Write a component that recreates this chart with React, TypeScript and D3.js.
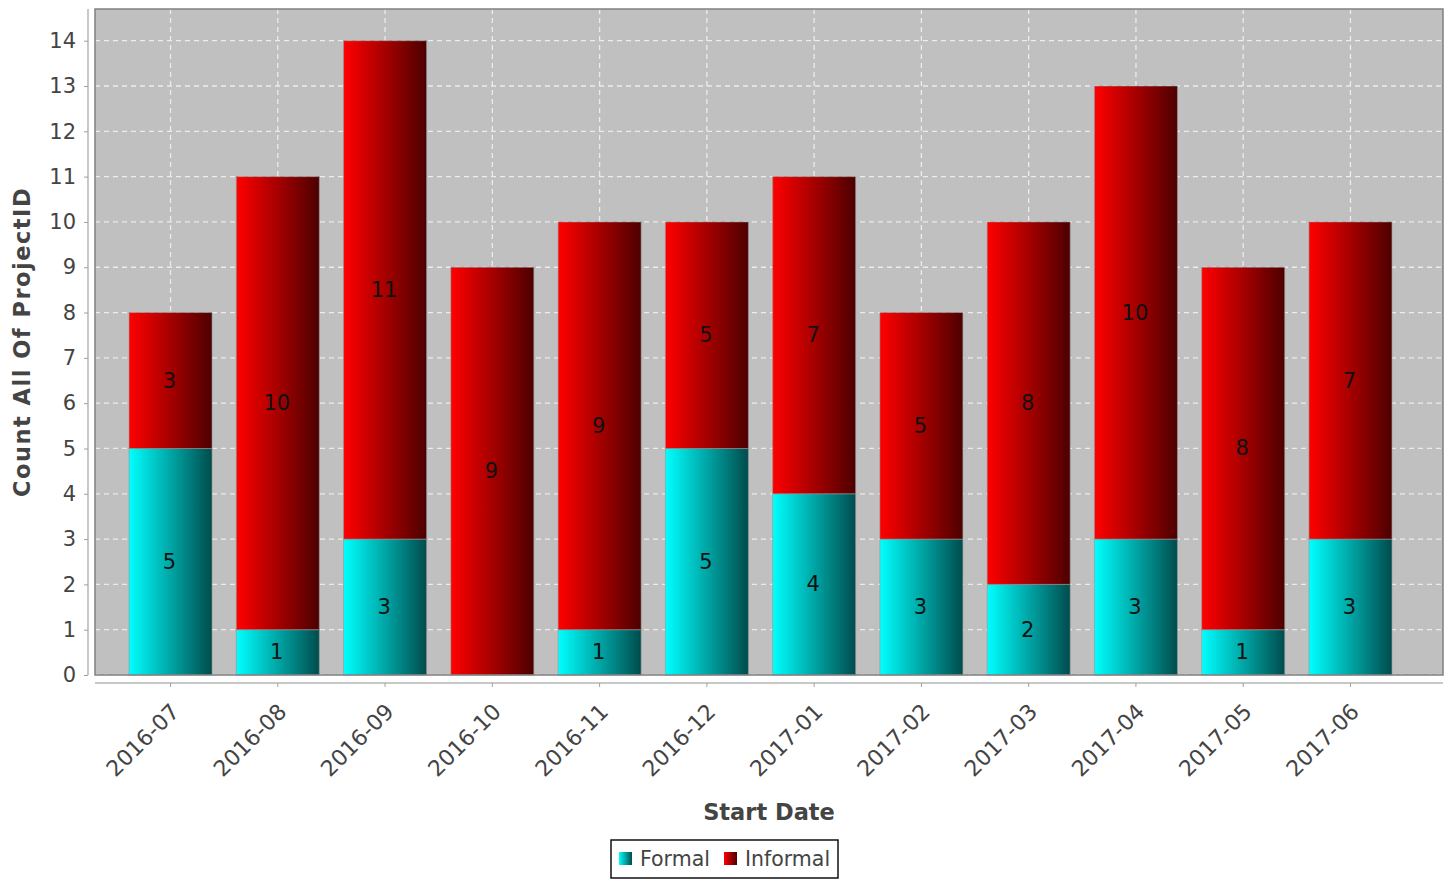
import * as d3 from "d3";
import { useEffect, useRef } from "react";

const months = [
  "2016-07", "2016-08", "2016-09", "2016-10", "2016-11", "2016-12",
  "2017-01", "2017-02", "2017-03", "2017-04", "2017-05", "2017-06",
];
const formal = [5, 1, 3, 0, 1, 5, 4, 3, 2, 3, 1, 3];
const informal = [3, 10, 11, 9, 9, 5, 7, 5, 8, 10, 8, 7];
const seriesNames = ["Formal", "Informal"];
const yTicks = d3.range(0, 15);

const W = 1450;
const H = 880;
const PLOT = { left: 95, top: 9, right: 1443, bottom: 675 };
const FONT = "'DejaVu Sans', sans-serif";

export default function App() {
  const ref = useRef<SVGSVGElement>(null);

  useEffect(() => {
    const svg = d3.select(ref.current);
    svg.selectAll("*").remove();

    const defs = svg.append("defs");
    const grads = [
      { id: "gFormal", from: "#00ffff", to: "#004c4c" },
      { id: "gInformal", from: "#ff0000", to: "#4c0000" },
    ];
    grads.forEach((g) => {
      const lg = defs.append("linearGradient").attr("id", g.id)
        .attr("x1", 0).attr("x2", 1).attr("y1", 0).attr("y2", 0);
      lg.append("stop").attr("offset", 0).attr("stop-color", g.from);
      lg.append("stop").attr("offset", 1).attr("stop-color", g.to);
    });

    // x: band scale, bars are 83px wide on a ~107px step
    const x = d3.scaleBand<string>()
      .domain(months)
      .range([116.9, 1404.1])
      .paddingInner(0.2263)
      .paddingOuter(0.11315);

    const y = d3.scaleLinear().domain([0, 14.7]).range([PLOT.bottom, PLOT.top]);

    // plot background
    svg.append("rect")
      .attr("x", PLOT.left).attr("y", PLOT.top)
      .attr("width", PLOT.right - PLOT.left).attr("height", PLOT.bottom - PLOT.top)
      .attr("fill", "#c0c0c0");

    // gridlines
    const grid = svg.append("g").attr("stroke", "#ececec").attr("stroke-width", 1.3)
      .attr("stroke-dasharray", "5,4");
    yTicks.forEach((t) => {
      grid.append("line").attr("x1", PLOT.left).attr("x2", PLOT.right)
        .attr("y1", y(t)).attr("y2", y(t));
    });
    months.forEach((m) => {
      const cx = x(m)! + x.bandwidth() / 2;
      grid.append("line").attr("x1", cx).attr("x2", cx)
        .attr("y1", PLOT.top).attr("y2", PLOT.bottom);
    });

    // stacked bars
    const table = months.map((m, i) => ({ month: m, Formal: formal[i], Informal: informal[i] }));
    const stack = d3.stack<any>().keys(seriesNames)(table);
    const fills = ["url(#gFormal)", "url(#gInformal)"];

    stack.forEach((layer, li) => {
      const g = svg.append("g");
      layer.forEach((d) => {
        const v = d[1] - d[0];
        if (v <= 0) return;
        const bx = x(d.data.month)!;
        g.append("rect")
          .attr("x", bx).attr("y", y(d[1]))
          .attr("width", x.bandwidth()).attr("height", y(d[0]) - y(d[1]))
          .attr("fill", fills[li])
          .attr("stroke", "rgba(150,150,150,0.6)").attr("stroke-width", 1);
      });
    });

    // value labels
    stack.forEach((layer) => {
      layer.forEach((d) => {
        const v = d[1] - d[0];
        if (v <= 0) return;
        svg.append("text")
          .attr("x", x(d.data.month)! + x.bandwidth() / 2 - 1)
          .attr("y", y((d[0] + d[1]) / 2))
          .attr("text-anchor", "middle")
          .attr("dominant-baseline", "central")
          .attr("font-family", FONT).attr("font-size", 21)
          .attr("fill", "#111")
          .text(v);
      });
    });

    // plot outline
    svg.append("rect")
      .attr("x", PLOT.left).attr("y", PLOT.top)
      .attr("width", PLOT.right - PLOT.left).attr("height", PLOT.bottom - PLOT.top)
      .attr("fill", "none").attr("stroke", "#808080").attr("stroke-width", 1.5);

    // y axis
    const yAxis = svg.append("g").attr("transform", "translate(88,0)")
      .call(d3.axisLeft(y).tickValues(yTicks).tickSize(4).tickPadding(8).tickFormat(d3.format("d")));
    yAxis.select(".domain").attr("stroke", "#c8c8c8").attr("stroke-width", 2)
      .attr("d", `M0,${PLOT.top}V${PLOT.bottom}`);
    yAxis.selectAll(".tick line").attr("stroke", "#a0a0a0");
    yAxis.selectAll(".tick text").attr("fill", "#444").attr("font-family", FONT).attr("font-size", 21);

    // x axis
    const xAxis = svg.append("g").attr("transform", "translate(0,683)")
      .call(d3.axisBottom(x).tickSize(4).tickSizeOuter(0));
    xAxis.select(".domain").attr("stroke", "#c8c8c8").attr("stroke-width", 2)
      .attr("d", `M${PLOT.left},0H${PLOT.right}`);
    xAxis.selectAll(".tick line").attr("stroke", "#a0a0a0");
    xAxis.selectAll(".tick text")
      .attr("fill", "#444").attr("font-family", FONT).attr("font-size", 22)
      .attr("text-anchor", "end")
      .attr("dy", null)
      .attr("y", 0)
      .attr("transform", "translate(10,30) rotate(-45)");

    // axis titles
    svg.append("text")
      .attr("x", (PLOT.left + PLOT.right) / 2).attr("y", 820)
      .attr("text-anchor", "middle")
      .attr("font-family", FONT).attr("font-size", 22.5).attr("font-weight", "bold")
      .attr("fill", "#444")
      .text("Start Date");
    svg.append("text")
      .attr("transform", `translate(30,${(PLOT.top + PLOT.bottom) / 2}) rotate(-90)`)
      .attr("text-anchor", "middle")
      .attr("font-family", FONT).attr("font-size", 22.5).attr("font-weight", "bold")
      .attr("letter-spacing", 1.5)
      .attr("fill", "#444")
      .text("Count All Of ProjectID");

    // legend
    const lg = svg.append("g");
    lg.append("rect").attr("x", 611).attr("y", 840).attr("width", 227).attr("height", 38)
      .attr("fill", "white").attr("stroke", "#111").attr("stroke-width", 1.5);
    const items = [
      { name: seriesNames[0], fill: fills[0], x: 619 },
      { name: seriesNames[1], fill: fills[1], x: 724 },
    ];
    items.forEach((it) => {
      lg.append("rect").attr("x", it.x).attr("y", 852).attr("width", 13).attr("height", 13)
        .attr("fill", it.fill);
      lg.append("text").attr("x", it.x + 21).attr("y", 859)
        .attr("dominant-baseline", "central")
        .attr("font-family", FONT).attr("font-size", 20.5).attr("fill", "#444")
        .text(it.name);
    });
  }, []);

  return (
    <svg
      ref={ref}
      width={W}
      height={H}
      style={{ position: "absolute", left: 0, top: 0, background: "white", display: "block" }}
    />
  );
}
